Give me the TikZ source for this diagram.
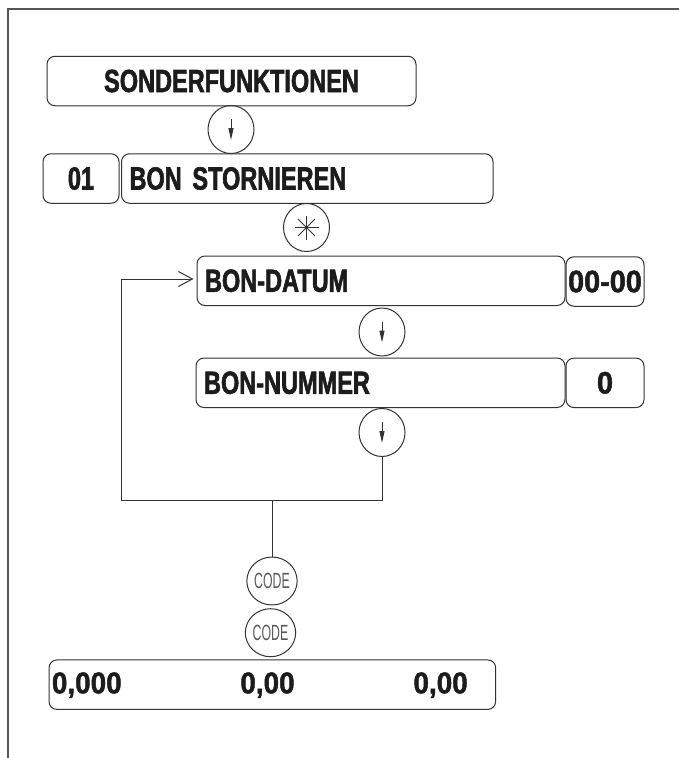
\documentclass[tikz,border=0pt]{standalone}
\usepackage{fontspec}
\setmainfont{Liberation Sans}
\newfontfamily\lblfont[FakeStretch=0.735,BoldFeatures={FakeBold=1.8}]{Liberation Sans}
\newfontfamily\numfont[FakeStretch=0.93,BoldFeatures={FakeBold=1.5}]{Liberation Sans}
\newfontfamily\codefont[FakeStretch=0.56]{Liberation Sans}
\usetikzlibrary{arrows.meta,positioning,shapes.geometric}
\definecolor{linec}{HTML}{333333}
\definecolor{txtc}{HTML}{1C1C1C}
\definecolor{framec}{HTML}{555555}

\begin{document}
\begin{tikzpicture}[x=1pt,y=-1pt,
  box/.style={draw=linec,line width=1pt,rounded corners=8pt,minimum height=49.5pt,inner xsep=8pt,inner ysep=0pt,text=txtc,font=\lblfont\bfseries\fontsize{32}{32}\selectfont},
  valbox/.style={box,minimum width=78pt,inner xsep=0pt,font=\numfont\bfseries\fontsize{31}{31}\selectfont},
  numtxt/.style={inner sep=0pt,text=txtc,font=\numfont\bfseries\fontsize{30}{30}\selectfont},
  key/.style={ellipse,draw=linec,line width=1pt,minimum width=46pt,minimum height=48pt,inner sep=0pt},
  keydown/.style={key,path picture={
    \draw[linec,line width=1pt,-{Triangle[length=12pt,width=5pt]}]
      ([yshift=10.5pt]path picture bounding box.center) -- ([yshift=-10.5pt]path picture bounding box.center);}},
  keystar/.style={key,path picture={
    \foreach \a in {0,45,90,135}
      \draw[linec,line width=0.9pt] ([shift={(\a:12pt)}]path picture bounding box.center)
        -- ([shift={(\a+180:12pt)}]path picture bounding box.center);}},
  keycode/.style={key,text=black!65,font=\codefont\fontsize{22}{22}\selectfont},
  link/.style={draw=linec,line width=1pt}
]
  \useasboundingbox (0,0) rectangle (679,758);
  \draw[framec,line width=1.3pt] (8,758) -- (8,9) -- (679,9);

  \node[box,text width=353pt,align=center] (sonder) at (231.5,81) {SONDERFUNKTIONEN};
  \node[keydown] (k1) at (231,129.5) {};
  \node[box,minimum width=76pt,inner xsep=0pt] (nr) at (81,178.5) {01};
  \node[box,text width=355.5pt,align=left] (storno) at (307.25,178.5) {BON STORNIEREN};
  \node[keystar] (k2) at (306.5,227.5) {};
  \node[box,text width=352pt,align=left] (datum) at (381,280.75) {BON-DATUM};
  \node[valbox] (datumval) at (605,281.5) {00-00};
  \node[keydown] (k3) at (382,332) {};
  \node[box,text width=353pt,align=left] (nummer) at (380.5,382.75) {BON-NUMMER};
  \node[valbox] (nummerval) at (605,382.8) {0};
  \node[keydown] (k4) at (382,432.5) {};
  \node[keycode] (c1) at (272,581) {CODE};
  \node[keycode] (c2) at (270.5,632.7) {CODE};
  \node[box,minimum width=446.7pt] (result) at (272.35,684.65) {};
  \node[numtxt,anchor=base west] (r1) at (51.7,693.3) {0,000};
  \node[numtxt,anchor=base] (r2) at (267.5,693.3) {0,00};
  \node[numtxt,anchor=base] (r3) at (440.6,693.3) {0,00};

  % loop back to BON-DATUM
  \coordinate (loopR) at (382,500);
  \coordinate (loopL) at (121,500);
  \coordinate (loopT) at (121,279);
  \coordinate (drop) at (272,500);
  \draw[link,-{Straight Barb[length=14pt,width=15pt]},shorten >=3pt]
    (k4.south) -- (loopR) -- (loopL) -- (loopT) -- (loopT -| datum.west);
  \draw[link] (drop) -- (c1);
\end{tikzpicture}
\end{document}
